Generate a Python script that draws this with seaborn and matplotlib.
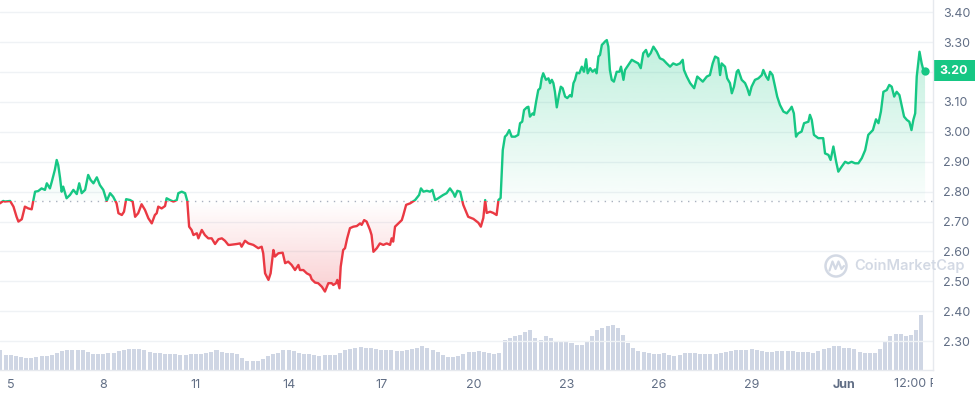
import numpy as np
import pandas as pd
import matplotlib
matplotlib.use("Agg")
import matplotlib.pyplot as plt
import matplotlib.dates as mdates
import seaborn as sns
from matplotlib.colors import to_rgb
from matplotlib.lines import Line2D
from matplotlib.patches import Rectangle, PathPatch, Circle
from matplotlib.transforms import blended_transform_factory, Bbox, TransformedBbox

# price: days after May 5 00:00, value in USD
day = [
    -0.35, -0.24, -0.19, -0.02, 0.09, 0.19, 0.25, 0.36, 0.46, 0.57, 0.68, 0.73, 0.79, 0.89,
    1.00, 1.11, 1.17, 1.27, 1.33, 1.43, 1.49, 1.54, 1.60, 1.65, 1.70, 1.81, 1.92, 2.03, 2.14,
    2.22, 2.30, 2.41, 2.51, 2.59, 2.68, 2.79, 2.89, 3.00, 3.11, 3.22, 3.32, 3.43, 3.49, 3.60,
    3.67, 3.74, 3.87, 3.95, 4.03, 4.13, 4.24, 4.35, 4.46, 4.57, 4.67, 4.73, 4.78, 4.89, 5.00,
    5.05, 5.16, 5.27, 5.38, 5.43, 5.54, 5.65, 5.72, 5.78, 5.86, 5.92, 6.03, 6.08, 6.19, 6.29,
    6.40, 6.51, 6.62, 6.73, 6.84, 6.94, 7.05, 7.10, 7.32, 7.43, 7.48, 7.59, 7.70, 7.86, 8.02,
    8.13, 8.18, 8.24, 8.35, 8.42, 8.51, 8.56, 8.67, 8.81, 8.89, 8.99, 9.10, 9.21, 9.32, 9.37,
    9.48, 9.59, 9.70, 9.75, 9.86, 9.96, 10.08, 10.18, 10.29, 10.40, 10.45, 10.54, 10.58, 10.65,
    10.69, 10.77, 10.83, 10.90, 10.99, 11.10, 11.21, 11.32, 11.37, 11.45, 11.53, 11.64, 11.69,
    11.75, 11.86, 11.96, 12.07, 12.18, 12.29, 12.34, 12.39, 12.45, 12.56, 12.67, 12.72, 12.81,
    12.94, 13.10, 13.23, 13.29, 13.37, 13.48, 13.58, 13.66, 13.75, 13.85, 14.01, 14.12, 14.23,
    14.34, 14.39, 14.47, 14.56, 14.66, 14.82, 14.99, 15.15, 15.23, 15.31, 15.37, 15.42, 15.53,
    15.63, 15.74, 15.80, 15.87, 15.94, 16.01, 16.07, 16.15, 16.23, 16.34, 16.44, 16.50, 16.57,
    16.63, 16.72, 16.77, 16.82, 16.91, 16.95, 17.02, 17.09, 17.15, 17.20, 17.25, 17.34, 17.42,
    17.47, 17.53, 17.58, 17.63, 17.69, 17.76, 17.82, 17.88, 17.96, 18.03, 18.12, 18.17, 18.23,
    18.28, 18.34, 18.42, 18.50, 18.57, 18.64, 18.69, 18.77, 18.85, 18.93, 18.98, 19.04, 19.09,
    19.15, 19.20, 19.25, 19.31, 19.36, 19.41, 19.47, 19.54, 19.63, 19.72, 19.77, 19.85, 19.90,
    20.01, 20.12, 20.22, 20.33, 20.41, 20.49, 20.58, 20.65, 20.73, 20.82, 20.93, 21.03, 21.14,
    21.25, 21.36, 21.46, 21.57, 21.68, 21.77, 21.81, 21.90, 22.01, 22.14, 22.24, 22.42, 22.55,
    22.65, 22.74, 22.82, 22.92, 22.98, 23.03, 23.14, 23.21, 23.30, 23.36, 23.43, 23.52, 23.57,
    23.68, 23.79, 23.86, 23.93, 24.00, 24.11, 24.22, 24.33, 24.38, 24.47, 24.54, 24.60, 24.68,
    24.76, 24.83, 24.92, 25.03, 25.14, 25.25, 25.30, 25.37, 25.44, 25.51, 25.62, 25.70, 25.84,
    25.89, 25.95, 26.02, 26.16, 26.32, 26.38, 26.49, 26.56, 26.65, 26.74, 26.81, 26.92, 27.03,
    27.13, 27.24, 27.35, 27.46, 27.57, 27.68, 27.78, 27.93, 28.03, 28.11, 28.19, 28.27, 28.38,
    28.46, 28.54, 28.62, 28.70, 28.79, 28.87, 28.94, 29.03, 29.11, 29.18, 29.24, 29.30, 29.35,
    29.44, 29.51, 29.57, 29.62,
]
price = [
    2.761, 2.769, 2.767, 2.769, 2.750, 2.716, 2.700, 2.708, 2.750, 2.744, 2.741, 2.769, 2.800, 2.802,
    2.811, 2.806, 2.828, 2.811, 2.833, 2.873, 2.906, 2.889, 2.845, 2.800, 2.817, 2.778, 2.789, 2.806, 2.792,
    2.828, 2.795, 2.806, 2.856, 2.839, 2.828, 2.848, 2.822, 2.806, 2.769, 2.795, 2.783, 2.761, 2.728, 2.722,
    2.733, 2.775, 2.772, 2.767, 2.716, 2.728, 2.758, 2.739, 2.711, 2.694, 2.722, 2.728, 2.750, 2.744, 2.752,
    2.778, 2.772, 2.767, 2.772, 2.795, 2.800, 2.795, 2.769, 2.683, 2.672, 2.655, 2.661, 2.644, 2.672, 2.655,
    2.644, 2.644, 2.625, 2.641, 2.644, 2.636, 2.622, 2.622, 2.625, 2.627, 2.616, 2.636, 2.627, 2.622, 2.611,
    2.616, 2.594, 2.527, 2.505, 2.527, 2.605, 2.583, 2.594, 2.596, 2.561, 2.566, 2.555, 2.538, 2.555, 2.538,
    2.538, 2.527, 2.521, 2.507, 2.496, 2.494, 2.482, 2.466, 2.494, 2.494, 2.488, 2.494, 2.505, 2.477,
    2.549, 2.605, 2.611, 2.644, 2.678, 2.683, 2.685, 2.694, 2.689, 2.705, 2.700, 2.672, 2.655,
    2.599, 2.611, 2.627, 2.622, 2.627, 2.622, 2.644, 2.633, 2.683, 2.694, 2.705, 2.722, 2.756,
    2.761, 2.772, 2.789, 2.811, 2.800, 2.803, 2.800, 2.806, 2.772, 2.778, 2.789, 2.795, 2.811,
    2.795, 2.783, 2.803, 2.800, 2.756, 2.716, 2.709, 2.696, 2.683, 2.712, 2.772, 2.729, 2.733,
    2.729, 2.722, 2.772, 2.779, 2.939, 2.984, 2.990, 3.006, 2.984, 2.984, 2.990, 3.029, 3.034,
    3.073, 3.082, 3.084, 3.051, 3.062, 3.057, 3.101, 3.140, 3.146, 3.179, 3.196, 3.174, 3.179,
    3.163, 3.174, 3.163, 3.134, 3.082, 3.123, 3.151, 3.146, 3.118, 3.113, 3.123, 3.118, 3.163,
    3.174, 3.198, 3.196, 3.218, 3.201, 3.243, 3.196, 3.213, 3.201, 3.209, 3.196, 3.252, 3.257,
    3.291, 3.296, 3.302, 3.307, 3.285, 3.207, 3.174, 3.168, 3.201, 3.201, 3.218, 3.174, 3.207,
    3.224, 3.241, 3.235, 3.229, 3.213, 3.263, 3.274, 3.252, 3.263, 3.285, 3.268, 3.246, 3.241,
    3.229, 3.218, 3.229, 3.224, 3.229, 3.241, 3.207, 3.185, 3.163, 3.146, 3.185, 3.168, 3.185,
    3.190, 3.229, 3.252, 3.246, 3.190, 3.229, 3.218, 3.179, 3.163, 3.129, 3.151, 3.201, 3.207,
    3.174, 3.163, 3.146, 3.123, 3.151, 3.174, 3.179, 3.190, 3.207, 3.185, 3.174, 3.201, 3.190,
    3.151, 3.118, 3.090, 3.068, 3.062, 3.076, 3.084, 3.062, 2.984, 2.995, 3.001, 3.029, 3.034,
    3.057, 3.040, 2.990, 2.979, 2.979, 2.928, 2.923, 2.906, 2.951, 2.900, 2.867, 2.884, 2.900,
    2.895, 2.900, 2.895, 2.895, 2.912, 2.939, 2.990, 3.006, 3.042, 3.029, 3.068, 3.134, 3.140,
    3.157, 3.151, 3.118, 3.134, 3.123, 3.084, 3.051, 3.040, 3.034, 3.006, 3.040, 3.062, 3.185,
    3.268, 3.229, 3.205, 3.204,
]
base_price = 2.769  # opening price of the period (dotted line)

# volume, one bar every 4 hours from May 4 16:00 (relative units)
volume = [
    20, 15.5, 15, 13.8, 12.6, 12, 11.8, 13.3, 13.7, 14,
    14.8, 17.5, 19.5, 20, 20, 20, 20, 18, 16.4, 16,
    16.3, 16.9, 17.3, 19.5, 20.3, 20.8, 21, 20.8, 20.5, 18.4,
    17.5, 16.7, 16.5, 16.1, 15.6, 14.8, 14.7, 15.7, 15.9, 16.1,
    16.8, 18.5, 19.7, 18, 17.5, 16.8, 15.7, 12, 9.3, 9.3,
    9.3, 11, 14.5, 15.8, 17.4, 20, 20.5, 18.8, 17, 16.3,
    15.6, 14.7, 14.4, 14.6, 14.8, 15.5, 17.3, 20, 21.2, 22,
    22.6, 21.8, 21.7, 21, 20, 20, 20, 19.2, 18.6, 20,
    21.4, 22.5, 23.8, 22.5, 20.5, 17.7, 15.1, 13.3, 13.3, 14.5,
    16, 17.8, 18.5, 19, 18, 16.8, 16.2, 16.6, 29.8, 32.5,
    33.8, 35, 38, 40, 32.5, 30.5, 33.6, 32, 29.5, 28.8,
    28.3, 27, 24.8, 25.5, 27.6, 33.8, 39.7, 42, 44.5, 44.8,
    42.4, 35, 27.5, 22.4, 19.4, 18, 17, 16.3, 16.3, 17,
    15.5, 14.3, 15, 16.8, 17, 16.7, 16.5, 16.3, 16, 16.3,
    17, 17.7, 19, 20.1, 20.3, 20.5, 20.6, 20.5, 18.7, 18.3,
    18.3, 18.7, 19, 19.2, 19, 18.5, 18, 17.6, 17.4, 18.8,
    20.8, 22.5, 24.2, 23.8, 21.7, 21.7, 21, 18.3, 17, 17,
    17.5, 21.5, 29, 34, 36.3, 36.2, 34, 35.5, 40, 55,
]

y_ticks = [2.3, 2.4, 2.5, 2.6, 2.7, 2.8, 2.9, 3.0, 3.1, 3.2, 3.3, 3.4]
x_tick_dates = ["2023-05-05", "2023-05-08", "2023-05-11", "2023-05-14", "2023-05-17",
                "2023-05-20", "2023-05-23", "2023-05-26", "2023-05-29", "2023-06-01"]
x_tick_labels = ["5", "8", "11", "14", "17", "20", "23", "26", "29", "Jun"]
last_tick = ("2023-06-03 12:00", "12:00 PM")

GREEN = "#16c784"
RED = "#ea3943"
GRAY = "#616e85"
GRID = "#eff2f5"

sns.set_style("white")
plt.rcParams["font.family"] = ["Inter", "DejaVu Sans"]

t0 = pd.Timestamp("2023-05-05")
df = pd.DataFrame({"time": t0 + pd.to_timedelta(day, unit="D"), "price": price})
vol_df = pd.DataFrame({
    "time": pd.date_range("2023-05-04 16:00", periods=len(volume), freq="4h"),
    "volume": volume,
})

fig = plt.figure(figsize=(9.75, 3.96), dpi=100)
ax = fig.add_axes([0, 26 / 396, 933 / 975, 370 / 396])

# volume bars on a hidden twin axis underneath
ax2 = ax.twinx()
ax2.bar(vol_df["time"], vol_df["volume"], width=0.13, color="#cfd6e4", linewidth=0)
ax2.set_ylim(0, 370)
ax2.axis("off")
ax.set_zorder(ax2.get_zorder() + 1)
ax.patch.set_visible(False)

p = np.array(price)
xs = mdates.date2num(df["time"])


def gradient_fill(color, upper, lower, lo, hi, a_lo, a_hi):
    poly = ax.fill_between(df["time"], upper, lower, color="none", linewidth=0)
    patch = PathPatch(poly.get_paths()[0], transform=ax.transData, fc="none", ec="none")
    ax.add_patch(patch)
    arr = np.zeros((256, 1, 4))
    arr[..., :3] = to_rgb(color)
    arr[:, 0, 3] = np.linspace(a_lo, a_hi, 256)
    im = ax.imshow(arr, extent=[xs[0], xs[-1], lo, hi], origin="lower",
                   aspect="auto", zorder=1, interpolation="bilinear")
    im.set_clip_path(patch)


gradient_fill(GREEN, np.maximum(p, base_price), base_price, base_price, p.max(), 0.02, 0.27)
gradient_fill(RED, np.minimum(p, base_price), base_price, p.min(), base_price, 0.24, 0.0)

ax.axhline(base_price, color="#a9b1bf", lw=1, ls=(0, (1, 4)), zorder=2)

blend = blended_transform_factory(ax.transAxes, ax.transData)
sns.lineplot(data=df, x="time", y="price", color=GREEN, lw=1.7, ax=ax, zorder=3)
ax.lines[-1].set_clip_path(Rectangle((0, base_price), 1, 10, transform=blend))
sns.lineplot(data=df, x="time", y="price", color=RED, lw=1.7, ax=ax, zorder=3)
ax.lines[-1].set_clip_path(Rectangle((0, base_price - 10), 1, 10, transform=blend))

ax.scatter(df["time"].iloc[-1], price[-1], s=36, color=GREEN, zorder=4, linewidths=0)

ax.set_xlim(t0 - pd.Timedelta(days=0.3466), t0 + pd.Timedelta(days=29.877))
ax.set_ylim(2.2037, 3.441)
ax.set_xlabel("")
ax.set_ylabel("")

# axes styling
ax.yaxis.tick_right()
ax.set_yticks(y_ticks)
ax.set_yticklabels(["" if v == 3.2 else f"{v:.2f}" for v in y_ticks])
ax.tick_params(axis="y", length=0, pad=7, labelsize=9, labelcolor=GRAY)
ax.grid(axis="y", color=GRID, lw=1)
ax.set_axisbelow(True)

ticks = [pd.Timestamp(d) for d in x_tick_dates] + [pd.Timestamp(last_tick[0])]
ax.set_xticks(ticks)
ax.set_xticklabels(x_tick_labels + [""])
ax.tick_params(axis="x", length=2.5, color="#dfe3ea", pad=4, labelsize=9, labelcolor=GRAY)
ax.get_xticklabels()[9].set_fontweight("bold")

for s in ["top", "left"]:
    ax.spines[s].set_visible(False)
for s in ["right", "bottom"]:
    ax.spines[s].set_color("#e6e9ee")
    ax.spines[s].set_linewidth(1)

# last x label is cut at the plot edge
lbl = fig.text(mdates.date2num(pd.Timestamp(last_tick[0])), 1 - 384 / 396, last_tick[1],
               transform=blended_transform_factory(ax.transData, fig.transFigure),
               ha="center", va="center", fontsize=9, color=GRAY)
lbl.set_clip_box(TransformedBbox(Bbox([[0, 0], [933 / 975, 1]]), fig.transFigure))
lbl.set_clip_on(True)

# current price tag
fblend = blended_transform_factory(fig.transFigure, ax.transData)
fig.add_artist(Rectangle((933 / 975, price[-1] - 0.035), 42 / 975, 0.071,
                         transform=fblend, facecolor=GREEN, edgecolor="none"))
fig.text(954 / 975, price[-1] - 0.002, f"{price[-1]:.2f}", transform=fblend,
         ha="center", va="center", color="white", fontsize=9, fontweight="bold")

# watermark
wm = "#d3d9e4"
fig.add_artist(Circle((8.36, 1.30), 0.105, transform=fig.dpi_scale_trans,
                      fill=False, edgecolor=wm, lw=1.8))
fig.add_artist(Line2D([8.295, 8.325, 8.355, 8.385, 8.415, 8.44],
                      [1.255, 1.345, 1.27, 1.345, 1.27, 1.30],
                      transform=fig.dpi_scale_trans, color=wm, lw=1.6))
fig.text(8.54 / 9.75, 1.30 / 3.96, "CoinMarketCap", ha="left", va="center",
         fontsize=10.5, fontweight="semibold", color=wm)

fig.savefig("out.png", dpi=100)
